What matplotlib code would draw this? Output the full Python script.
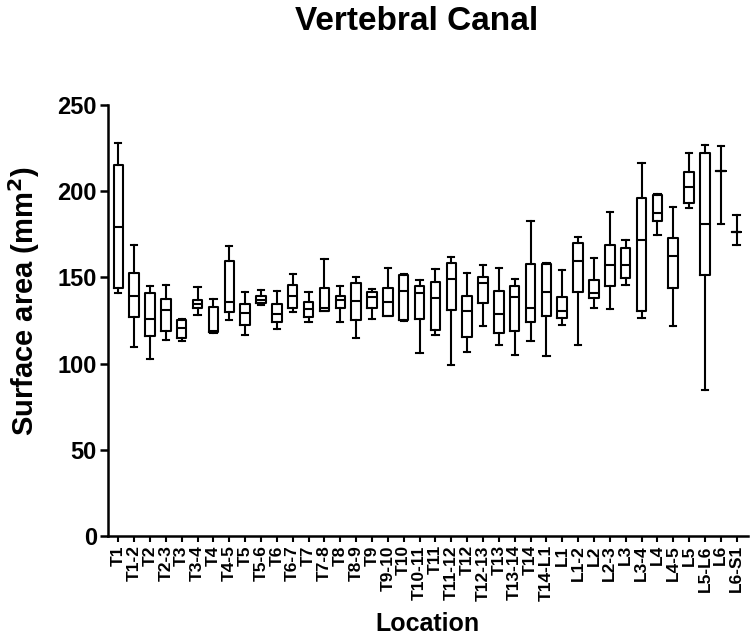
import matplotlib
matplotlib.use('Agg')
import matplotlib.pyplot as plt

plt.rcParams['font.family'] = ['Liberation Sans', 'DejaVu Sans']
plt.rcParams['font.weight'] = 'bold'

# ==========================================
# DATA
# ==========================================
locations = ["T1", "T1-2", "T2", "T2-3", "T3", "T3-4", "T4", "T4-5", "T5", "T5-6",
             "T6", "T6-7", "T7", "T7-8", "T8", "T8-9", "T9", "T9-10", "T10", "T10-11",
             "T11", "T11-12", "T12", "T12-13", "T13", "T13-14", "T14", "T14-L1", "L1", "L1-2",
             "L2", "L2-3", "L3", "L3-4", "L4", "L4-5", "L5", "L5-L6", "L6", "L6-S1"]

whisker_low = [140.7, 109.7, 102.9, 113.8, 113.0, 128.3, 117.8, 125.6, 116.9, 134.3,
               120.2, 129.8, 124.0, 130.8, 124.0, 114.9, 126.0, 127.5, 125.0, 106.2,
               116.9, 99.0, 107.0, 121.7, 110.6, 105.0, 113.2, 104.7, 122.5, 110.9,
               132.0, 131.8, 145.7, 126.6, 174.6, 122.1, 190.3, 84.9, 181.2, 168.8]
box_low = [143.6, 127.0, 116.3, 119.2, 114.9, 132.4, 118.6, 129.8, 122.5, 135.0,
           124.2, 132.0, 127.0, 130.8, 132.4, 125.2, 132.0, 127.9, 125.6, 126.0,
           119.4, 131.4, 115.5, 134.9, 117.8, 118.8, 124.2, 127.5, 126.7, 141.3,
           138.2, 145.3, 149.4, 130.4, 182.6, 144.0, 193.4, 151.2, 211.8, 176.2]
medians = [179.0, 139.5, 126.0, 131.4, 120.5, 134.7, 118.8, 135.9, 129.5, 137.2,
           128.7, 139.1, 131.8, 132.4, 136.8, 136.6, 138.7, 135.7, 142.4, 140.7,
           138.0, 149.2, 130.6, 146.5, 129.0, 138.7, 132.2, 141.7, 130.6, 159.7,
           141.1, 157.0, 157.0, 171.7, 187.6, 162.6, 202.5, 180.8, 211.8, 176.2]
box_high = [215.0, 152.7, 140.7, 137.6, 125.6, 136.8, 132.9, 159.3, 134.7, 139.1,
            134.7, 145.7, 136.0, 143.8, 139.5, 146.9, 141.7, 143.8, 151.6, 145.3,
            147.3, 158.5, 139.5, 150.4, 142.0, 145.0, 158.0, 157.8, 138.7, 169.9,
            148.3, 169.0, 166.9, 196.3, 197.7, 173.1, 210.9, 222.1, 211.8, 176.2]
whisker_high = [228.0, 168.8, 145.0, 145.7, 125.9, 144.6, 137.6, 168.0, 141.3, 142.8,
                141.9, 151.9, 141.7, 160.9, 144.8, 150.2, 143.0, 155.6, 152.1, 148.4,
                155.0, 161.8, 152.7, 157.0, 155.2, 148.8, 182.6, 158.3, 154.1, 173.4,
                161.4, 188.0, 171.5, 216.5, 198.6, 190.7, 222.3, 226.7, 226.2, 186.4]

stats = []
for i, name in enumerate(locations):
    stats.append({
        'label': name,
        'whislo': whisker_low[i],
        'q1': box_low[i],
        'med': medians[i],
        'q3': box_high[i],
        'whishi': whisker_high[i],
    })

fig = plt.figure(figsize=(7.5, 6.36), dpi=100)
ax = fig.add_axes([0.144, 0.157, 0.853, 0.678])

line = dict(color='black', linewidth=1.5)
ax.bxp(stats, positions=range(len(locations)), widths=0.6, capwidths=0.4,
       showfliers=False, boxprops=line, whiskerprops=line, capprops=line,
       medianprops=line)

ax.set_xlim(-0.65, len(locations) - 0.3)
ax.set_ylim(0, 250)
ax.set_yticks([0, 50, 100, 150, 200, 250])
ax.set_xticks(range(len(locations)))
ax.set_xticklabels(locations, rotation=90, fontsize=12.5, fontweight='bold')
ax.tick_params(axis='y', labelsize=17, length=6, width=1.8, pad=2)
ax.tick_params(axis='x', length=4.5, width=1.5, pad=2)

for side in ['top', 'right']:
    ax.spines[side].set_visible(False)
for side in ['left', 'bottom']:
    ax.spines[side].set_linewidth(1.8)

# y label sits with its right (baseline) side near x = 37 px
ax.set_ylabel("Surface area (mm$^\\mathbf{2}$)", fontsize=21, fontweight='bold')
ax.yaxis.set_label_coords(-0.103, 0.545)
ax.set_xlabel("Location", fontsize=18, fontweight='bold')
ax.xaxis.set_label_coords(0.5, -0.175)

fig.text(0.556, 0.966, "Vertebral Canal", fontsize=24, fontweight='bold',
         ha='center', va='center')

fig.savefig('out.png', dpi=100)
plt.close(fig)
